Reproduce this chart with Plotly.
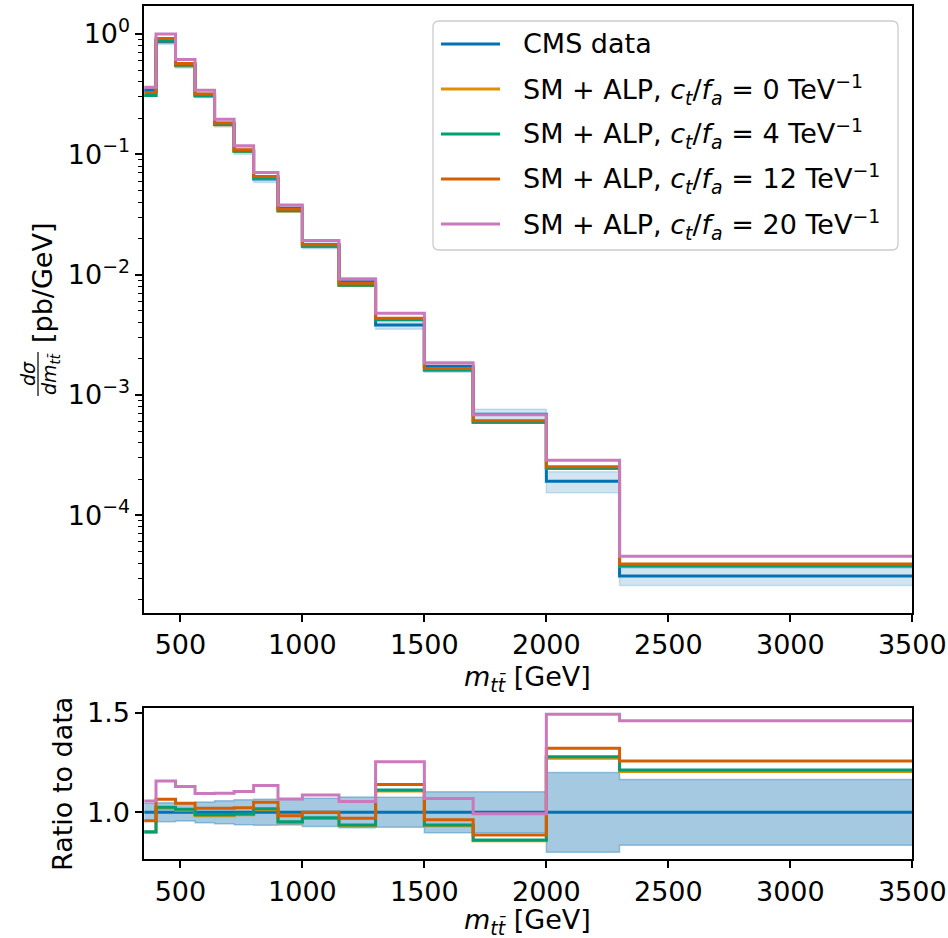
import plotly.graph_objects as go

# ---- binning and measured differential cross section (pb/GeV) ----
bin_edges = [250, 400, 480, 560, 640, 720, 800, 900, 1000, 1150, 1300, 1500, 1700, 2000, 2300, 3500]
cms_data = [0.342, 0.863, 0.545, 0.311, 0.179, 0.107, 0.0623, 0.0356, 0.0177,
            0.00873, 0.00381, 0.00172, 0.00069, 0.000192, 3.12e-5]
# relative total uncertainty of the measurement
cms_rel_unc = [0.045, 0.048, 0.044, 0.052, 0.058, 0.063, 0.065, 0.064, 0.071,
               0.077, 0.075, 0.103, 0.103, 0.200, 0.165]

# ---- SM + ALP predictions (pb/GeV) ----
alp_ct0 = [0.3078, 0.8803, 0.5505, 0.3057, 0.1760, 0.1057, 0.06311, 0.03375, 0.01715,
           0.008136, 0.004218, 0.001603, 0.0005913, 0.0002442, 3.760e-5]
alp_ct4 = [0.3088, 0.8846, 0.5532, 0.3070, 0.1767, 0.1061, 0.06342, 0.03389, 0.01722,
           0.008171, 0.004237, 0.001610, 0.0005941, 0.0002456, 3.781e-5]
alp_ct12 = [0.3273, 0.9191, 0.5695, 0.3172, 0.1826, 0.1094, 0.06542, 0.03496, 0.01770,
            0.008468, 0.004343, 0.001655, 0.0006113, 0.0002536, 3.925e-5]
alp_ct20 = [0.3615, 0.9985, 0.6153, 0.3405, 0.1960, 0.1181, 0.07065, 0.03799, 0.01924,
            0.009201, 0.004778, 0.001840, 0.0006845, 0.0002865, 4.555e-5]

ct_values = ["0", "4", "12", "20"]
series_labels = ["CMS data"] + [
    "SM + ALP, <i>c<sub>t</sub></i>/<i>f<sub>a</sub></i> = %s TeV<sup>−1</sup>" % c
    for c in ct_values
]
colors = ["#0173B2", "#DE8F05", "#029E73", "#D55E00", "#CC78BC"]

x_ticks = [500, 1000, 1500, 2000, 2500, 3000, 3500]
y_ticks_top = [1e-4, 1e-3, 1e-2, 1e-1, 1]
y_ticktext_top = ["10<sup>−4</sup>", "10<sup>−3</sup>", "10<sup>−2</sup>",
                  "10<sup>−1</sup>", "10<sup>0</sup>"]
y_ticks_ratio = [1.0, 1.5]

W, H = 948, 938
FONT = "DejaVu Sans"
FS = 27
LW = 3.0


def px(x):
    return x / W


def py(y):
    return 1 - y / H


def steps(vals):
    return list(vals) + [vals[-1]]


fig = go.Figure()

# ---------- upper panel ----------
up = [d * (1 + u) for d, u in zip(cms_data, cms_rel_unc)]
lo = [d * (1 - u) for d, u in zip(cms_data, cms_rel_unc)]
band_top = "rgba(31,119,180,0.2)"
fig.add_trace(go.Scatter(x=bin_edges, y=steps(lo), mode="lines", line_shape="hv",
                         line=dict(color=band_top, width=1.5), showlegend=False,
                         xaxis="x", yaxis="y"))
fig.add_trace(go.Scatter(x=bin_edges, y=steps(up), mode="lines", line_shape="hv",
                         line=dict(color=band_top, width=1.5), fill="tonexty",
                         fillcolor=band_top, showlegend=False, xaxis="x", yaxis="y"))

all_series = [cms_data, alp_ct0, alp_ct4, alp_ct12, alp_ct20]
for vals, col in zip(all_series, colors):
    fig.add_trace(go.Scatter(x=bin_edges, y=steps(vals), mode="lines", line_shape="hv",
                             line=dict(color=col, width=LW), showlegend=False,
                             xaxis="x", yaxis="y"))

# ---------- ratio panel ----------
band_ratio = "rgba(31,119,180,0.4)"
r_lo = [1 - u for u in cms_rel_unc]
r_up = [1 + u for u in cms_rel_unc]
fig.add_trace(go.Scatter(x=bin_edges, y=steps(r_lo), mode="lines", line_shape="hv",
                         line=dict(color=band_ratio, width=1.5), showlegend=False,
                         xaxis="x2", yaxis="y2"))
fig.add_trace(go.Scatter(x=bin_edges, y=steps(r_up), mode="lines", line_shape="hv",
                         line=dict(color=band_ratio, width=1.5), fill="tonexty",
                         fillcolor=band_ratio, showlegend=False, xaxis="x2", yaxis="y2"))
for vals, col in zip(all_series, colors):
    ratio = [v / d for v, d in zip(vals, cms_data)]
    fig.add_trace(go.Scatter(x=bin_edges, y=steps(ratio), mode="lines", line_shape="hv",
                             line=dict(color=col, width=LW), showlegend=False,
                             xaxis="x2", yaxis="y2"))

axis_common = dict(showline=True, linecolor="black", linewidth=1.7, mirror=True,
                   ticks="outside", ticklen=7, tickwidth=1.6, tickcolor="black",
                   showgrid=False, zeroline=False, automargin=False,
                   tickfont=dict(family=FONT, size=FS, color="black"))

x_dom = [px(144.3), px(912.3)]
x_range = [352, 3500]

minor_top = [k * 10 ** e for e in range(-5, 1) for k in range(2, 10)]

fig.update_layout(
    width=W, height=H,
    margin=dict(l=0, r=0, t=0, b=0, pad=0),
    paper_bgcolor="white", plot_bgcolor="white",
    xaxis=dict(domain=x_dom, range=x_range, anchor="y",
               tickmode="array", tickvals=x_ticks, ticktext=[str(t) for t in x_ticks],
               **axis_common),
    yaxis=dict(domain=[py(612.7), py(6)], type="log", range=[-4.81, 0.233], anchor="x",
               tickmode="array", tickvals=y_ticks_top, ticktext=y_ticktext_top,
               minor=dict(tickmode="array", tickvals=minor_top, ticks="outside",
                          ticklen=4.5, tickwidth=1.3, tickcolor="black", showgrid=False),
               **axis_common),
    xaxis2=dict(domain=x_dom, range=x_range, anchor="y2",
                tickmode="array", tickvals=x_ticks, ticktext=[str(t) for t in x_ticks],
                **axis_common),
    yaxis2=dict(domain=[py(859.3), py(708.3)], range=[0.764, 1.522], anchor="x2",
                tickmode="array", tickvals=y_ticks_ratio,
                ticktext=["%.1f" % t for t in y_ticks_ratio],
                **axis_common),
)

annotations = []
shapes = []


def label(x, y, text, size=FS, angle=0, xanchor="center"):
    annotations.append(dict(x=px(x), y=py(y), xref="paper", yref="paper", text=text,
                            textangle=angle, showarrow=False, xanchor=xanchor,
                            yanchor="middle",
                            font=dict(family=FONT, size=size, color="black")))


# axis titles
mtt = "<i>m</i><sub><i>tt\u0304</i></sub> [GeV]"
label(527, 678, mtt)
label(527, 921, mtt)
label(62, 784, "Ratio to data", angle=-90)
# dσ/dm fraction label on the cross-section axis
label(42, 283, "[pb/GeV]", angle=-90)
label(28, 374, "<i>dσ</i>", size=19, angle=-90)
label(51, 374, "<i>dm</i><sub><i>tt\u0304</i></sub>", size=19, angle=-90)
shapes.append(dict(type="line", xref="paper", yref="paper",
                   x0=px(38), x1=px(38), y0=py(352), y1=py(396),
                   line=dict(color="black", width=1.2)))

# legend frame with rounded corners
lx0, lx1, ly0, ly1, rad = 433, 898, 21, 250, 6


def P(x, y):
    return "%.5f,%.5f" % (px(x), py(y))


path = ("M " + P(lx0 + rad, ly0) + " L " + P(lx1 - rad, ly0) +
        " Q " + P(lx1, ly0) + " " + P(lx1, ly0 + rad) +
        " L " + P(lx1, ly1 - rad) + " Q " + P(lx1, ly1) + " " + P(lx1 - rad, ly1) +
        " L " + P(lx0 + rad, ly1) + " Q " + P(lx0, ly1) + " " + P(lx0, ly1 - rad) +
        " L " + P(lx0, ly0 + rad) + " Q " + P(lx0, ly0) + " " + P(lx0 + rad, ly0) + " Z")
shapes.append(dict(type="path", xref="paper", yref="paper", path=path,
                   fillcolor="rgba(255,255,255,0.8)",
                   line=dict(color="#cccccc", width=1.3), layer="above"))

row_y = [44, 89, 134, 179, 224]
for text, col, yy in zip(series_labels, colors, row_y):
    shapes.append(dict(type="line", xref="paper", yref="paper",
                       x0=px(441), x1=px(500), y0=py(yy), y1=py(yy),
                       line=dict(color=col, width=LW), layer="above"))
    label(521, yy, text, xanchor="left")

fig.update_layout(annotations=annotations, shapes=shapes)

fig.write_html("out.html")
